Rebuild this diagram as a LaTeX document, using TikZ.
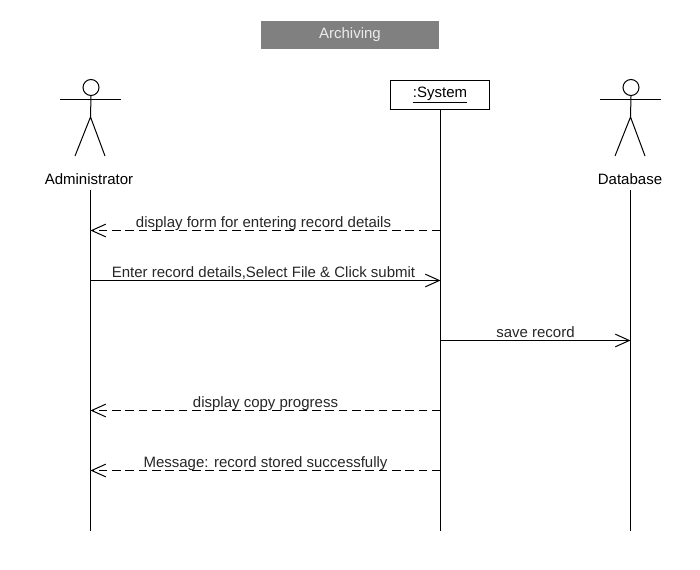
\documentclass[tikz,border=0pt]{standalone}
\usepackage{fontspec}
\setmainfont{Liberation Sans}
\usetikzlibrary{arrows.meta, positioning}

\begin{document}
\begin{tikzpicture}[x=0.75pt, y=-0.75pt, line width=0.75pt, font=\fontsize{11.25}{13}\selectfont, >={Straight Barb[length=10.5pt, width=9.5pt]},
    actorname/.style={inner sep=0pt, anchor=base},
    headnode/.style={draw, circle, minimum size=12pt, inner sep=0pt},
    msg/.style={->},
    reply/.style={->, dash pattern=on 6.5pt off 3.5pt},
    msglabel/.style={anchor=base, inner sep=0pt, yshift=2.2pt, text=black!85}]
    \useasboundingbox (0,0) rectangle (700,570);

    \node[fill=black!50, text=white!92!black, minimum width=133.5pt, minimum height=21pt, inner sep=0pt] (title) at (350,35) {Archiving};
    \node[draw, minimum width=74.25pt, minimum height=21.75pt, inner sep=0pt] (system) at (440,95) {\raisebox{-1pt}{\underline{:System}}};

    \node[headnode] (adminhead) at (91,87.5) {};
    \node[actorname] (admin) at (89,185) {Administrator};
    \coordinate (adminneck) at (90.5,117);
    \coordinate (adminarml) at (60,99.5);
    \coordinate (adminarmr) at (121,99.5);
    \coordinate (adminfootl) at (75,156);
    \coordinate (adminfootr) at (105,156);
    \draw (adminhead.south) to (adminneck);
    \draw (adminarml) to (adminarmr);
    \draw (adminfootl) to (adminneck) to (adminfootr);

    \node[headnode] (dbhead) at (631,87.5) {};
    \node[actorname] (db) at (630,185) {Database};
    \coordinate (dbneck) at (630.5,117);
    \coordinate (dbarml) at (600,99.5);
    \coordinate (dbarmr) at (661,99.5);
    \coordinate (dbfootl) at (615,156);
    \coordinate (dbfootr) at (645,156);
    \draw (dbhead.south) to (dbneck);
    \draw (dbarml) to (dbarmr);
    \draw (dbfootl) to (dbneck) to (dbfootr);

    % lifelines
    \coordinate (admintop) at (90.5,190);
    \coordinate (adminend) at (90.5,530.5);
    \coordinate (systemend) at (440.5,530.5);
    \coordinate (dbtop) at (630.5,190);
    \coordinate (dbend) at (630.5,530.5);
    \draw (admintop) to (adminend);
    \draw ([xshift=0.375pt]system.south) to (systemend);
    \draw (dbtop) to (dbend);

    \coordinate (a1) at (90.5,230.5);
    \coordinate (s1) at (440.5,230.5);
    \coordinate (a2) at (90.5,280.5);
    \coordinate (s2) at (440.5,280.5);
    \coordinate (s3) at (440.5,340.5);
    \coordinate (d3) at (630.5,340.5);
    \coordinate (a4) at (90.5,410.5);
    \coordinate (s4) at (440.5,410.5);
    \coordinate (a5) at (90.5,470.5);
    \coordinate (s5) at (440.5,470.5);

    \draw[reply] (s1) to node[msglabel, xshift=-1.5pt] {display form for entering record details} (a1);
    \draw[msg] (a2) to node[msglabel, xshift=-1.5pt] {Enter record details,Select File \& Click submit} (s2);
    \draw[msg] (s3) to node[msglabel] {save record} (d3);
    \draw[reply] (s4) to node[msglabel] {display copy progress} (a4);
    \draw[reply] (s5) to node[msglabel] {Message: record stored successfully} (a5);

\end{tikzpicture}
\end{document}
